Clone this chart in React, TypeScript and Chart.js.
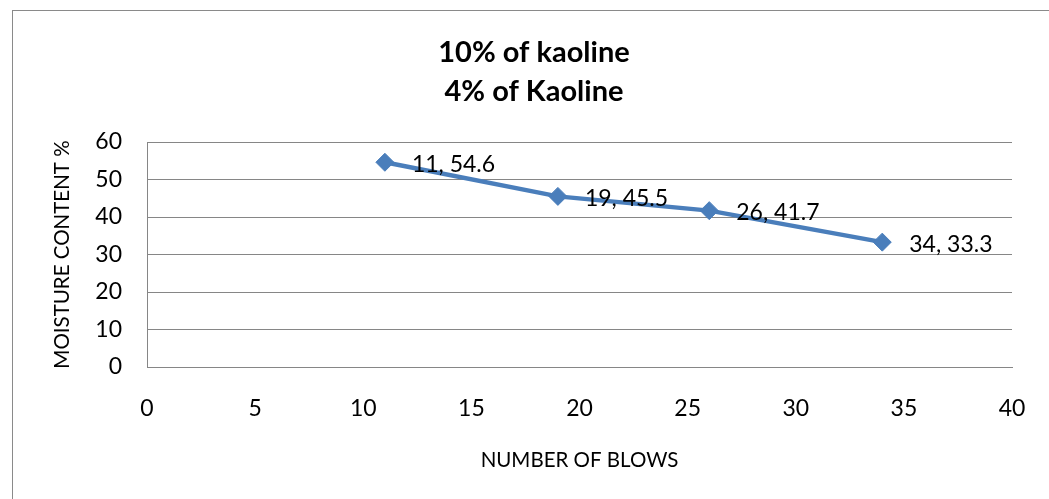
import React, { useEffect, useRef } from "react";
import { Chart, registerables } from "chart.js";

Chart.register(...registerables);

const titleLines = ["10% of kaoline", "4% of Kaoline"];
const blows = [11, 19, 26, 34];
const moisture = [54.6, 45.5, 41.7, 33.3];
const xTitle = "NUMBER OF BLOWS";
const yTitle = "MOISTURE CONTENT %";

const FONT = "Lato, 'Open Sans', sans-serif";
const BLUE = "#4A7EBB";
const GRID = "#868686";

const pointLabels = {
  id: "pointLabels",
  afterDatasetsDraw(chart: any) {
    const ctx = chart.ctx;
    const meta = chart.getDatasetMeta(0);
    ctx.save();
    ctx.font = `23px ${FONT}`;
    ctx.fillStyle = "#000";
    ctx.textAlign = "left";
    ctx.textBaseline = "middle";
    meta.data.forEach((el: any, i: number) => {
      ctx.fillText(`${blows[i]}, ${moisture[i]}`, el.x + 27, el.y + 2);
    });
    ctx.restore();
  },
};

export default function App() {
  const ref = useRef<HTMLCanvasElement>(null);
  useEffect(() => {
    if (!ref.current) return;
    const chart = new Chart(ref.current, {
      type: "line",
      data: {
        datasets: [
          {
            data: blows.map((b, i) => ({ x: b, y: moisture[i] })),
            borderColor: BLUE,
            backgroundColor: BLUE,
            borderWidth: 4.5,
            pointStyle: "rectRot",
            pointRadius: 9,
            pointBorderWidth: 1,
            pointBorderColor: BLUE,
            pointBackgroundColor: BLUE,
            tension: 0,
          },
        ],
      },
      options: {
        responsive: false,
        animation: false,
        events: [],
        layout: { padding: 0 },
        plugins: {
          legend: { display: false },
          tooltip: { enabled: false },
          title: {
            display: true,
            text: titleLines,
            color: "#000",
            font: { family: FONT, size: 29, weight: "bold", lineHeight: 39 / 29 },
            padding: { top: 33.5, bottom: 30.5 },
          },
        },
        scales: {
          x: {
            type: "linear",
            min: 0,
            max: 40,
            ticks: {
              stepSize: 5,
              color: "#000",
              font: { family: FONT, size: 23 },
              padding: 28,
              maxRotation: 0,
            },
            grid: { display: false, drawTicks: false },
            border: { display: true, color: GRID, width: 1 },
            title: {
              display: true,
              text: xTitle,
              color: "#000",
              font: { family: FONT, size: 20.5, lineHeight: 1.2 },
              padding: { top: 0, bottom: 26 },
            },
            afterFit(scale: any) {
              scale.height = 132;
              scale.paddingRight = 56;
            },
          },
          y: {
            min: 0,
            max: 60,
            ticks: {
              stepSize: 10,
              color: "#000",
              font: { family: FONT, size: 23 },
              padding: 25,
            },
            grid: { color: GRID, lineWidth: 1, drawTicks: false },
            border: { display: true, color: GRID, width: 1 },
            title: {
              display: true,
              text: yTitle,
              color: "#000",
              font: { family: FONT, size: 20.5, lineHeight: 1.2 },
              padding: { top: 50, bottom: 0 },
            },
            afterFit(scale: any) {
              scale.width = 147;
            },
          },
        },
      },
      plugins: [pointLabels],
    } as any);
    return () => chart.destroy();
  }, []);

  return (
    <div
      style={{
        position: "fixed",
        left: 0,
        top: 0,
        width: 1049,
        height: 499,
        overflow: "hidden",
        background: "#fff",
      }}
    >
      <div
        style={{
          position: "absolute",
          left: 12,
          top: 10,
          width: 1200,
          height: 700,
          border: "1.5px solid #8a8a8a",
          pointerEvents: "none",
        }}
      />
      <canvas
        ref={ref}
        width={1068}
        height={499}
        style={{ position: "absolute", left: 0, top: 0, width: 1068, height: 499 }}
      />
    </div>
  );
}
